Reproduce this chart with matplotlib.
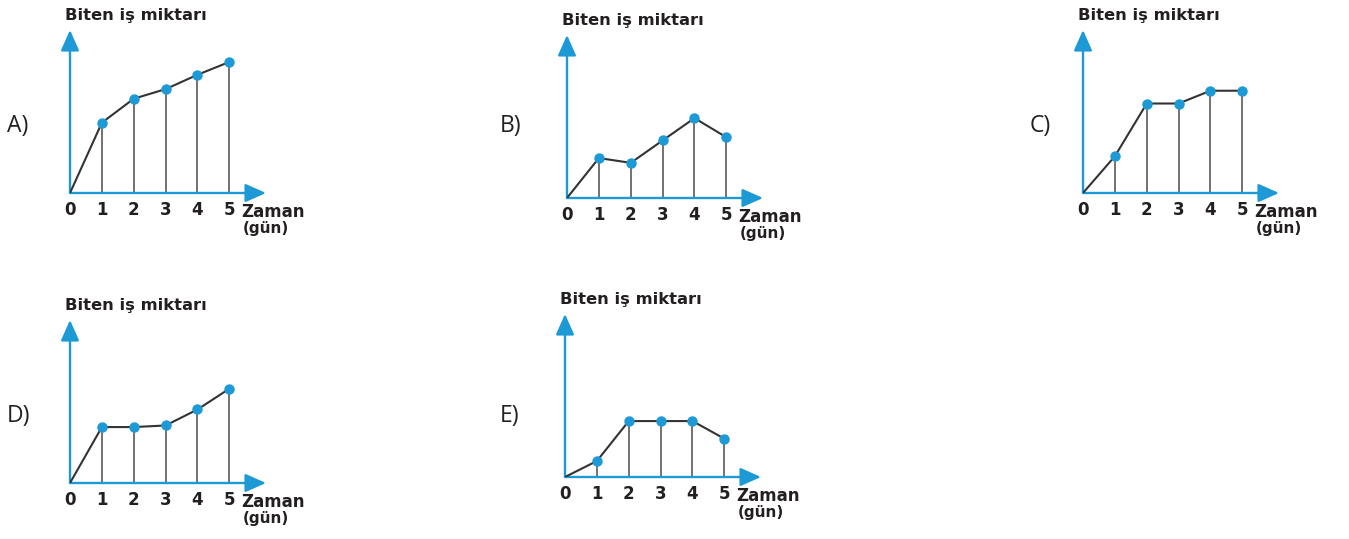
import matplotlib
matplotlib.use("Agg")
import matplotlib.pyplot as plt

# days on the x axis
days = [0, 1, 2, 3, 4, 5]

# work done (arbitrary units)
vals_a = [0, 2.2, 2.95, 3.25, 3.7, 4.1]
vals_b = [0, 1.25, 1.1, 1.8, 2.5, 1.9]
vals_c = [0, 1.15, 2.8, 2.8, 3.2, 3.2]
vals_d = [0, 1.75, 1.75, 1.8, 2.3, 2.95]
vals_e = [0, 0.5, 1.75, 1.75, 1.75, 1.2]

letters = ["A)", "B)", "C)", "D)", "E)"]
y_title = "Biten iş miktarı"
x_title = "Zaman"
x_unit = "(gün)"

W, H = 1349, 539
BLUE = "#1d9ad6"
DARK = "#231f20"
BOLD_FONT = "DejaVu Sans"

fig = plt.figure(figsize=(W / 100, H / 100), dpi=100)

# axes origin in pixels (x, y from top) and letter position
panels = [
    (vals_a, (70, 193), (7, 126)),
    (vals_b, (567, 198), (500, 126)),
    (vals_c, (1083, 193), (1030, 126)),
    (vals_d, (70, 483), (7, 416)),
    (vals_e, (565, 477), (500, 416)),
]

AX_W, AX_H = 196, 163
XMAX, YMAX = 6.15, 5.1

for (vals, (ox, oy), (lx, ly)), letter in zip(panels, letters):
    ax = fig.add_axes([ox / W, (H - oy) / H, AX_W / W, AX_H / H])
    ax.set_xlim(0, XMAX)
    ax.set_ylim(0, YMAX)
    for s in ax.spines.values():
        s.set_visible(False)
    ax.set_yticks([])
    ax.set_xticks(days)
    ax.set_xticklabels([str(d) for d in days], fontsize=12, fontweight="bold",
                       color=DARK, family=BOLD_FONT)
    ax.tick_params(axis="x", length=0, pad=6)
    ax.patch.set_alpha(0)

    # axis arrows
    arrow = dict(arrowstyle="-|>,head_length=0.9,head_width=0.4", color=BLUE,
                 lw=1.7, mutation_scale=14, shrinkA=0, shrinkB=0)
    ax.annotate("", xy=(XMAX, 0), xytext=(0, 0), arrowprops=arrow,
                annotation_clip=False)
    ax.annotate("", xy=(0, YMAX), xytext=(0, 0), arrowprops=arrow,
                annotation_clip=False)

    # drop lines and the curve
    ax.vlines(days[1:], 0, vals[1:], color="#5a5a5a", lw=1.2, zorder=2)
    ax.plot(days, vals, color="#333333", lw=1.5, zorder=3)
    ax.plot(days[1:], vals[1:], "o", color=BLUE, ms=6.5, mec=BLUE, zorder=4)

    ax.text(-0.15, YMAX + 0.45, y_title, fontsize=11.8, fontweight="bold",
            color=DARK, family=BOLD_FONT, va="center", ha="left",
            clip_on=False)
    ax.text(5.36, -0.6, x_title, fontsize=12, fontweight="bold", color=DARK,
            family=BOLD_FONT, va="center", ha="left", clip_on=False)
    ax.text(5.42, -1.1, x_unit, fontsize=11, fontweight="bold", color=DARK,
            family=BOLD_FONT, va="center", ha="left", clip_on=False)

    fig.text(lx / W, (H - ly) / H, letter, fontsize=16.5, color=DARK,
             family="Open Sans", va="center", ha="left")

fig.savefig("out.png", dpi=100, facecolor="white")
